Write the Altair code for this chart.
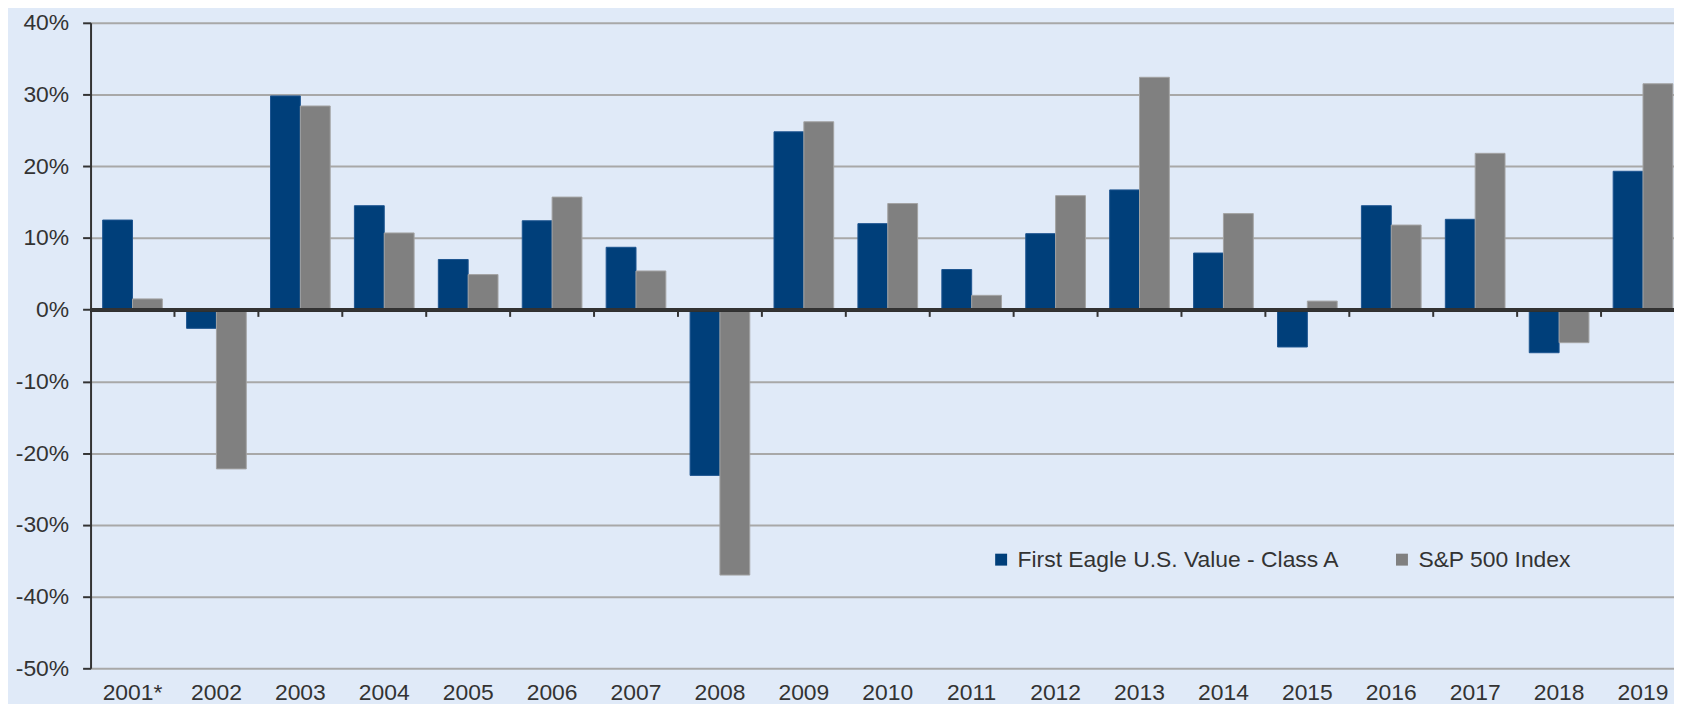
import altair as alt
import pandas as pd

years = ["2001*", "2002", "2003", "2004", "2005", "2006", "2007", "2008", "2009", "2010",
         "2011", "2012", "2013", "2014", "2015", "2016", "2017", "2018", "2019"]
fund = [12.5, -2.6, 29.8, 14.5, 7.0, 12.4, 8.7, -23.1, 24.8, 12.0,
        5.6, 10.6, 16.7, 7.9, -5.2, 14.5, 12.6, -6.0, 19.3]
sp500 = [1.5, -22.2, 28.4, 10.7, 4.9, 15.7, 5.4, -37.0, 26.2, 14.8,
         2.0, 15.9, 32.4, 13.4, 1.2, 11.8, 21.8, -4.6, 31.5]
series_names = ["First Eagle U.S. Value - Class A", "S&P 500 Index"]
series_colors = ["#003F7A", "#808080"]
series_strokes = ["#1D5590", "#A3A3A3"]
y_ticks = [-50, -40, -30, -20, -10, 0, 10, 20, 30, 40]

rows = []
for i, yr in enumerate(years):
    rows.append({"year": yr, "series": series_names[0], "value": fund[i]})
    rows.append({"year": yr, "series": series_names[1], "value": sp500[i]})
df = pd.DataFrame(rows)
bounds = pd.DataFrame({"year": years[1:]})

FONT = "Liberation Sans"
TXT = "#333333"
W = 1592
STEP = 84.37
x_scale = alt.Scale(domain=years, range=[0, STEP * len(years)], paddingInner=0, paddingOuter=0)
y_scale = alt.Scale(domain=[-50, 40], nice=False, zero=False)

bars = alt.Chart(df).mark_bar(strokeWidth=1).encode(
    x=alt.X("year:N", sort=years, scale=x_scale, title=None,
            axis=alt.Axis(domain=False, ticks=False, tickSize=0, grid=False,
                          labelFont=FONT, labelFontSize=23, labelColor=TXT,
                          labelAngle=0, labelBaseline="alphabetic", labelPadding=31,
                          labelOverlap=False)),
    xOffset=alt.XOffset("series:N", sort=series_names,
                        scale=alt.Scale(domain=series_names, paddingInner=0, paddingOuter=0.406)),
    y=alt.Y("value:Q", scale=y_scale, title=None,
            axis=alt.Axis(values=y_ticks, labelExpr="datum.value + '%'",
                          domain=True, domainColor=TXT, domainWidth=2,
                          ticks=True, tickSize=8, tickColor=TXT, tickWidth=2,
                          grid=True, gridColor="#A8A8A8", gridWidth=2,
                          labelFont=FONT, labelFontSize=23, labelColor=TXT,
                          labelPadding=14)),
    fill=alt.Fill("series:N", sort=series_names,
                  scale=alt.Scale(domain=series_names, range=series_colors),
                  legend=alt.Legend(title=None, orient="none", legendX=904, legendY=528,
                                    direction="horizontal", symbolType="square",
                                    symbolSize=144, symbolStrokeWidth=0,
                                    labelFont=FONT, labelFontSize=23, labelColor=TXT,
                                    labelLimit=600,
                                    labelOffset=5, columnPadding=50, padding=0)),
    stroke=alt.Stroke("series:N", sort=series_names,
                      scale=alt.Scale(domain=series_names, range=series_strokes),
                      legend=None),
)

zero_line = alt.Chart(df).mark_rule(color=TXT, strokeWidth=3).encode(
    y=alt.datum(0, scale=y_scale)
)

ticks = alt.Chart(bounds).mark_rule(color=TXT, strokeWidth=2).encode(
    x=alt.X("year:N", sort=years, scale=x_scale, bandPosition=0),
    y=alt.datum(0),
    y2=alt.datum(-1),
)

chart = alt.layer(bars, zero_line, ticks).properties(
    width=W, height=649,
    autosize=alt.AutoSizeParams(type="none"),
    padding={"left": 83, "top": 13, "right": 0, "bottom": 34},
    background="#E0EAF8",
).configure_view(stroke=None, fill="#E0EAF8")

chart.save("out.html", embed_options={"renderer": "svg", "actions": False})
